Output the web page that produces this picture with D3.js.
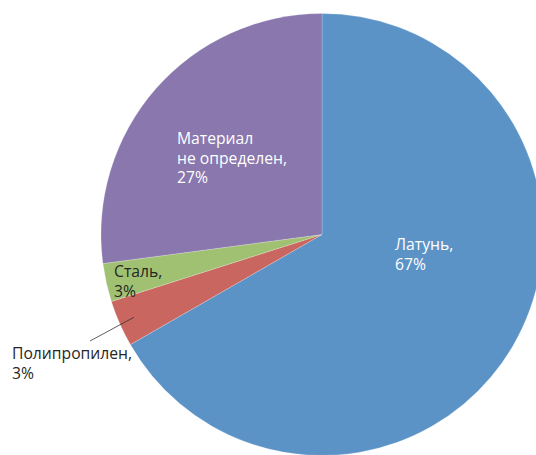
<!DOCTYPE html>
<html><head><meta charset="utf-8">
<script src="https://cdn.jsdelivr.net/npm/d3@7"></script>
<style>body{margin:0;background:#fff;overflow:hidden}</style>
</head><body>
<svg id="c" width="536" height="455"></svg>
<script>
const categories = ["Латунь", "Полипропилен", "Сталь", "Материал не определен"];
const values = [66.7, 3.4, 2.8, 27.1];
const pctLabels = ["67%", "3%", "3%", "27%"];
const colors = ["#5b93c7", "#c9665f", "#a0c172", "#8977ae"];

const svg = d3.select("#c");
const cx = 322, cy = 234.5, R = 221;
const g = svg.append("g").attr("transform", `translate(${cx},${cy})`);
const pie = d3.pie().sort(null).value(d => d)(values);
const arc = d3.arc().innerRadius(0).outerRadius(R);
g.selectAll("path").data(pie).enter().append("path")
  .attr("d", arc).attr("fill", (d, i) => colors[i])
  .attr("stroke", "#fff").attr("stroke-opacity", 0.35).attr("stroke-width", 0.6);

const labelLines = [
  [[categories[0] + ",", pctLabels[0]], 395, 250, "#fff"],
  [[categories[1] + ",", pctLabels[1]], 12, 359, "#262626"],
  [["Сталь,", pctLabels[2]], 114, 277, "#262626"],
  [["Материал", "не определен,", pctLabels[3]], 177, 144, "#fff"]
];
labelLines.forEach(([lines, x, y, col]) => {
  lines.forEach((l, i) => svg.append("text")
    .attr("x", x).attr("y", y + i * 19.5)
    .attr("font-family", "'Open Sans', 'Noto Sans', sans-serif")
    .attr("font-size", 15.7).attr("fill", col).text(l));
});
const mid = (pie[1].startAngle + pie[1].endAngle) / 2;
const inner = R * 0.93;
svg.append("line")
  .attr("x1", 90).attr("y1", 341)
  .attr("x2", cx + Math.sin(mid) * inner).attr("y2", cy - Math.cos(mid) * inner)
  .attr("stroke", "#333").attr("stroke-width", 0.8);
</script>
</body></html>
